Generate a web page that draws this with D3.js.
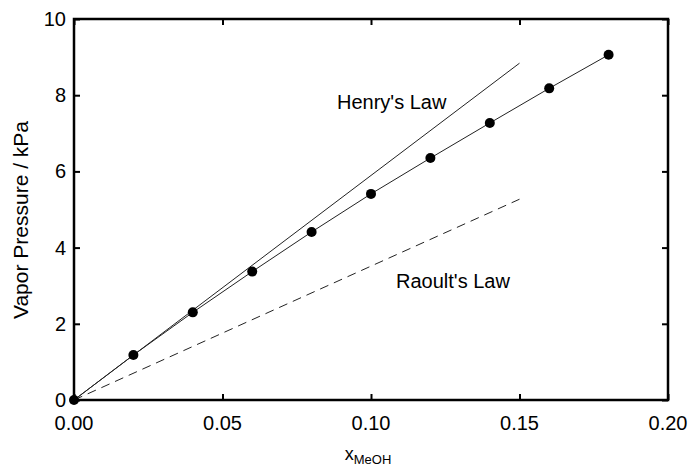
<!DOCTYPE html>
<html>
<head>
<meta charset="utf-8">
<script src="https://cdn.jsdelivr.net/npm/d3@7"></script>
<style>
  body { margin: 0; background: #fff; }
  text { font-family: "Liberation Sans", Arial, sans-serif; fill: #000; }
</style>
</head>
<body>
<div id="chart"></div>
<script>
// measured data: mole fraction of methanol vs vapor pressure (kPa)
var xMeOH = [0.00, 0.02, 0.04, 0.06, 0.08, 0.10, 0.12, 0.14, 0.16, 0.18];
var pressure = [0.00, 1.18, 2.30, 3.37, 4.41, 5.41, 6.35, 7.27, 8.18, 9.06];

// limiting laws, drawn as straight lines from origin
var henryX = [0.00, 0.15];
var henryP = [0.00, 8.84];
var raoultX = [0.00, 0.15];
var raoultP = [0.00, 5.27];

var xTicks = [0.00, 0.05, 0.10, 0.15, 0.20];
var yTicks = [0, 2, 4, 6, 8, 10];

var width = 689, height = 471;
// plot box (note: "top" is reserved on window, so use pTop etc.)
var pLeft = 74, pRight = 668, pTop = 19, pBottom = 400;

var svg = d3.select("#chart").append("svg")
    .attr("width", width)
    .attr("height", height);

var x = d3.scaleLinear().domain([0, 0.20]).range([pLeft, pRight]);
var y = d3.scaleLinear().domain([0, 10]).range([pBottom, pTop]);

function pairs(xs, ys) {
    return xs.map(function (d, i) { return { x: d, y: ys[i] }; });
}

var line = d3.line()
    .x(function (d) { return x(d.x); })
    .y(function (d) { return y(d.y); });

// Henry's law line
svg.append("path")
    .attr("d", line(pairs(henryX, henryP)))
    .attr("fill", "none")
    .attr("stroke", "#222")
    .attr("stroke-width", 1);

// Raoult's law (dashed)
svg.append("path")
    .attr("d", line(pairs(raoultX, raoultP)))
    .attr("fill", "none")
    .attr("stroke", "#222")
    .attr("stroke-width", 1)
    .attr("stroke-dasharray", "9,6");

// data line
svg.append("path")
    .attr("d", line(pairs(xMeOH, pressure)))
    .attr("fill", "none")
    .attr("stroke", "#222")
    .attr("stroke-width", 1);

// axes: inward ticks on all four sides
var tickLen = 6;
svg.append("g")
    .attr("transform", "translate(0," + pBottom + ")")
    .call(d3.axisTop(x).tickValues(xTicks).tickSize(tickLen).tickFormat(""));
svg.append("g")
    .attr("transform", "translate(0," + pTop + ")")
    .call(d3.axisBottom(x).tickValues(xTicks).tickSize(tickLen).tickFormat(""));
svg.append("g")
    .attr("transform", "translate(" + pLeft + ",0)")
    .call(d3.axisRight(y).tickValues(yTicks).tickSize(tickLen).tickFormat(""));
svg.append("g")
    .attr("transform", "translate(" + pRight + ",0)")
    .call(d3.axisLeft(y).tickValues(yTicks).tickSize(tickLen).tickFormat(""));

svg.selectAll(".domain").remove();
svg.selectAll(".tick line").attr("stroke", "#000").attr("stroke-width", 2);

// frame
svg.append("rect")
    .attr("x", pLeft)
    .attr("y", pTop)
    .attr("width", pRight - pLeft)
    .attr("height", pBottom - pTop)
    .attr("fill", "none")
    .attr("stroke", "#000")
    .attr("stroke-width", 2.5);

// tick labels
svg.selectAll(".xlab").data(xTicks).enter().append("text")
    .attr("x", function (d) { return x(d); })
    .attr("y", 430)
    .attr("text-anchor", "middle")
    .attr("font-size", 20)
    .text(function (d) { return d3.format(".2f")(d); });

svg.selectAll(".ylab").data(yTicks).enter().append("text")
    .attr("x", 66)
    .attr("y", function (d) { return y(d) + 7; })
    .attr("text-anchor", "end")
    .attr("font-size", 20)
    .text(function (d) { return d; });

// data points
svg.selectAll(".dot").data(pairs(xMeOH, pressure)).enter().append("circle")
    .attr("cx", function (d) { return x(d.x); })
    .attr("cy", function (d) { return y(d.y); })
    .attr("r", 5)
    .attr("fill", "#000");

// annotations
svg.append("text")
    .attr("x", 337)
    .attr("y", 109)
    .attr("font-size", 20)
    .text("Henry's Law");

svg.append("text")
    .attr("x", 396)
    .attr("y", 288)
    .attr("font-size", 20)
    .text("Raoult's Law");

// axis titles
svg.append("text")
    .attr("transform", "translate(28,220) rotate(-90)")
    .attr("text-anchor", "middle")
    .attr("font-size", 21)
    .text("Vapor Pressure / kPa");

var xt = svg.append("text")
    .attr("x", 368)
    .attr("y", 460)
    .attr("text-anchor", "middle")
    .attr("font-size", 18);
xt.append("tspan").text("x");
xt.append("tspan").attr("font-size", 13).attr("dy", 4).text("MeOH");
</script>
</body>
</html>
